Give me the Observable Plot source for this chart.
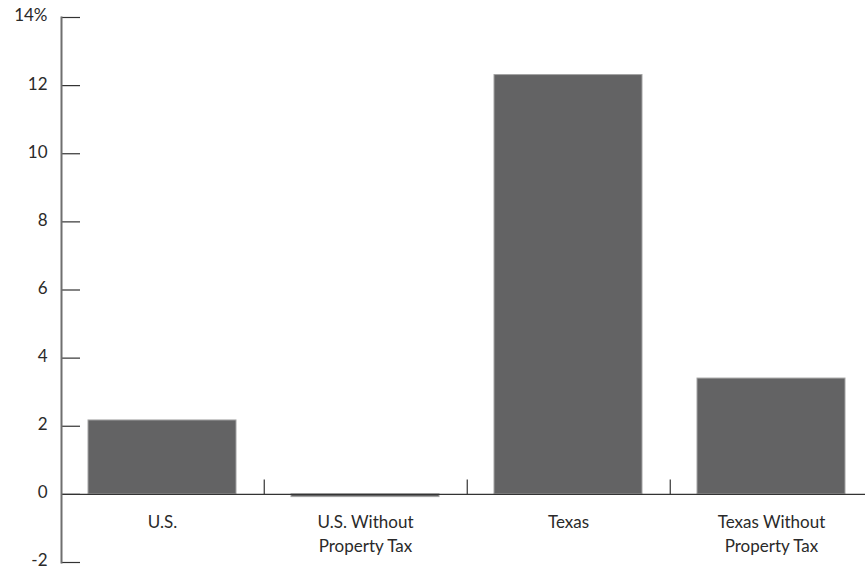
<!DOCTYPE html>
<html>
<head>
<meta charset="utf-8">
<script src="https://cdn.jsdelivr.net/npm/d3@7"></script>
<script src="https://cdn.jsdelivr.net/npm/@observablehq/plot@0.6"></script>
<style>
  html, body { margin: 0; padding: 0; background: #fff; }
  #chart svg { display: block; }
</style>
</head>
<body>
<div id="chart"></div>
<script>
const categories = ["U.S.", "U.S. Without\nProperty Tax", "Texas", "Texas Without\nProperty Tax"];
const values = [2.17, -0.08, 12.31, 3.40];
const yTicks = [-2, 0, 2, 4, 6, 8, 10, 12, 14];
const yTickLabels = ["-2", "0", "2", "4", "6", "8", "10", "12", "14%"];

const data = categories.map((c, i) => ({cat: c, value: values[i]}));

const W = 865, H = 569;
const xRange = [59.5, 873.5];
const step = (xRange[1] - xRange[0]) / categories.length;
const font = "Lato, 'Open Sans', sans-serif";

const chart = Plot.plot({
  width: W,
  height: H,
  marginLeft: 61,
  marginRight: 0,
  marginTop: 17,
  marginBottom: 7,
  style: {fontFamily: font, fontSize: "17px", color: "#2a2a2a", background: "#fff"},
  x: {domain: categories, range: xRange, paddingInner: 0.273, paddingOuter: 0.1365, axis: null, label: null},
  y: {domain: [-2, 14], axis: null, label: null},
  marks: [
    Plot.barY(data, {x: "cat", y: "value", fill: "#636364", stroke: "#a3a3a3", strokeWidth: 1}),
    Plot.ruleY([0], {stroke: "#333", strokeWidth: 1.2}),
    Plot.ruleY(yTicks, {stroke: "#333", strokeWidth: 1.2, insetRight: W - 80}),
    Plot.ruleX(categories.slice(0, -1), {x: d => d, y1: 0, y2: 0.42, dx: step / 2, stroke: "#333", strokeWidth: 1.2}),
    Plot.frame({anchor: "left", stroke: "#6f6f6f", strokeWidth: 2}),
    Plot.axisY({ticks: yTicks, tickSize: 0, tickPadding: 14, dy: -1.5, label: null, tickFormat: d => yTickLabels[yTicks.indexOf(d)], fontSize: 17, fill: "#2a2a2a"}),
    Plot.text(data, {x: "cat", y: 0, text: "cat", dy: 17, lineAnchor: "top", lineHeight: 1.4, fontSize: 17, fill: "#2a2a2a"})
  ]
});
document.getElementById("chart").appendChild(chart);
</script>
</body>
</html>
